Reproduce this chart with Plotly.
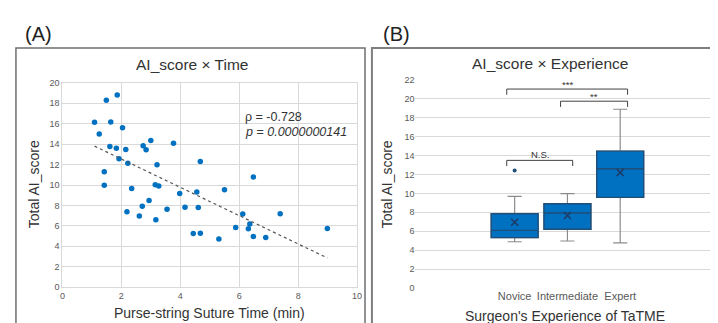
import numpy as np
import plotly.graph_objects as go

# ---------------- data ----------------
# Panel A: scatter of suture time vs AI score
time_min = [1.09, 1.25, 1.49, 1.64, 1.86, 2.04, 1.61, 1.83, 2.15, 1.92, 2.22, 2.74, 2.84, 3.00,
            3.21, 3.77, 4.68, 1.42, 1.42, 2.19, 2.35, 2.61, 2.71, 2.94, 3.15, 3.17, 3.27, 3.55,
            3.98, 4.16, 4.44, 4.56, 4.61, 4.68, 5.31, 5.50, 5.88, 6.12, 6.31, 6.36, 6.48, 6.48,
            6.90, 7.39, 8.99]
ai_score = [16.13, 15.00, 18.30, 16.17, 18.80, 15.60, 13.77, 13.60, 13.48, 12.56, 12.14, 13.83,
            13.45, 14.35, 11.98, 14.09, 12.30, 11.29, 9.97, 7.39, 9.65, 6.98, 7.92, 8.49, 10.03,
            6.60, 9.90, 7.64, 9.18, 7.83, 5.25, 9.31, 7.80, 5.28, 4.72, 9.53, 5.85, 7.17, 5.72,
            6.19, 10.79, 4.97, 4.87, 7.20, 5.75]
rho_text = "ρ = -0.728"
p_text = "<i>p</i> = <i>0.0000000141</i>"

# Panel B: box plot statistics by experience
groups = ["Novice", "Intermediate", "Expert"]
q1 = [5.33, 6.21, 9.58]
median = [6.10, 7.93, 12.60]
q3 = [7.85, 8.90, 14.45]
lower_fence = [4.90, 4.98, 4.77]
upper_fence = [9.68, 9.98, 18.87]
means = [6.95, 7.66, 12.20]
outlier_group = [0]
outlier_value = [12.40]

# significance brackets: (left, right, y, label)
brackets = [(-0.15, 2.14, 21.0, "***"), (0.87, 2.14, 19.72, "**"), (-0.15, 1.10, 13.48, "N.S.")]

# ---------------- styling ----------------
FONT = "Liberation Sans, Arial, sans-serif"
BLUE = "#0070C0"
GRID = "#d9d9d9"
TICK = "#595959"
TXT = "#333333"
W, H = 718, 323

fig = go.Figure()

fig.add_trace(go.Scatter(x=time_min, y=ai_score, mode="markers",
                         marker=dict(color=BLUE, size=5.5), xaxis="x", yaxis="y",
                         showlegend=False, hoverinfo="skip"))

slope, intercept = np.polyfit(time_min, ai_score, 1)
xs = np.array([min(time_min), max(time_min)])
fig.add_trace(go.Scatter(x=xs, y=slope * xs + intercept, mode="lines",
                         line=dict(color="#555555", width=1.2, dash="dot"),
                         xaxis="x", yaxis="y", showlegend=False, hoverinfo="skip"))

xpos = list(range(len(groups)))
# full box with gray whiskers
fig.add_trace(go.Box(x=xpos, q1=q1, median=median, q3=q3, lowerfence=lower_fence,
                     upperfence=upper_fence, width=0.89, whiskerwidth=0.3,
                     fillcolor=BLUE, line=dict(color="#8c8c8c", width=1.2),
                     boxpoints=False, xaxis="x2", yaxis="y2", showlegend=False,
                     hoverinfo="skip"))
# box body with dark outline on top
fig.add_trace(go.Box(x=xpos, q1=q1, median=median, q3=q3, lowerfence=q1, upperfence=q3,
                     width=0.89, whiskerwidth=0, fillcolor=BLUE,
                     line=dict(color="#1f4e79", width=1.4),
                     boxpoints=False, xaxis="x2", yaxis="y2", showlegend=False,
                     hoverinfo="skip"))
fig.add_trace(go.Scatter(x=xpos, y=means, mode="markers",
                         marker=dict(symbol="x-thin", size=7, line=dict(color="#1f3864", width=1.5)),
                         xaxis="x2", yaxis="y2", showlegend=False, hoverinfo="skip"))
fig.add_trace(go.Scatter(x=outlier_group, y=outlier_value, mode="markers",
                         marker=dict(color="#1f4e79", size=4),
                         xaxis="x2", yaxis="y2", showlegend=False, hoverinfo="skip"))

shapes = []
for x0, x1, y, lab in brackets:
    shapes.append(dict(type="path", xref="x2", yref="y2",
                       path=f"M {x0},{y-0.6} L {x0},{y} L {x1},{y} L {x1},{y-0.6}",
                       line=dict(color="#404040", width=1)))
# panel frames
shapes.append(dict(type="rect", xref="paper", yref="paper", x0=5 / W, x1=358 / W,
                   y0=-0.1, y1=1 - 36 / H, line=dict(color="#6f6f6f", width=1.5)))
shapes.append(dict(type="rect", xref="paper", yref="paper", x0=365 / W, x1=1.1,
                   y0=-0.1, y1=1 - 36 / H, line=dict(color="#7f7f7f", width=2)))

ann = []
def txt(x, y, text, size, color=TXT, xanchor="center", **kw):
    ann.append(dict(x=x / W, y=1 - y / H, xref="paper", yref="paper", text=text,
                    showarrow=False, xanchor=xanchor, yanchor="middle",
                    font=dict(family=FONT, size=size, color=color), **kw))

txt(28, 22, "(A)", 20, color="#222222")
txt(390, 22, "(B)", 20, color="#222222")
txt(183, 53, "AI_score × Time", 15.5)
txt(545, 52, "AI_score × Experience", 15.5)
txt(201, 310, "Purse-string Suture Time (min)", 14)
txt(560, 313, "Surgeon's Experience of TaTME", 14)
txt(23, 177, "Total AI_score", 14, textangle=-90)
txt(380, 177, "Total AI_score", 14, textangle=-90)
txt(235, 107, rho_text, 12.5, xanchor="left")
txt(235, 123, p_text, 12.5, xanchor="left")

for x0, x1, y, lab in brackets:
    off = 0.45 if "*" in lab else 0.65
    ann.append(dict(x=(x0 + x1) / 2, y=y + off, xref="x2", yref="y2", text=lab,
                    showarrow=False, yanchor="middle",
                    font=dict(family=FONT, size=9.5, color=TXT)))

tickfont = dict(family=FONT, size=9, color=TICK)
fig.update_layout(
    width=W, height=H, margin=dict(l=0, r=0, t=0, b=0),
    paper_bgcolor="white", plot_bgcolor="white", boxmode="overlay",
    shapes=shapes, annotations=ann,
    xaxis=dict(domain=[52 / W, 350 / W], range=[0, 10], dtick=2, showgrid=True,
               gridcolor=GRID, zeroline=False, showline=True, mirror=True,
               linecolor=GRID, tickfont=tickfont, ticks="", anchor="y"),
    yaxis=dict(domain=[1 - 283 / H, 1 - 72 / H], range=[0, 20], dtick=2, showgrid=True,
               gridcolor=GRID, zeroline=False, showline=True, mirror=True,
               linecolor=GRID, tickfont=tickfont, ticks="", anchor="x"),
    xaxis2=dict(domain=[409 / W, 1.0], range=[-1.88, 3.91], tickvals=xpos, ticktext=groups,
                showgrid=False, zeroline=False, showline=False,
                tickfont=dict(family=FONT, size=11, color=TICK), ticks="", anchor="y2"),
    yaxis2=dict(domain=[1 - 284 / H, 1 - 68.7 / H], range=[0, 22], dtick=2, showgrid=True,
                gridcolor=GRID, zeroline=False, showline=False,
                tickfont=tickfont, ticks="", anchor="x2"),
)

fig.write_html("out.html")
